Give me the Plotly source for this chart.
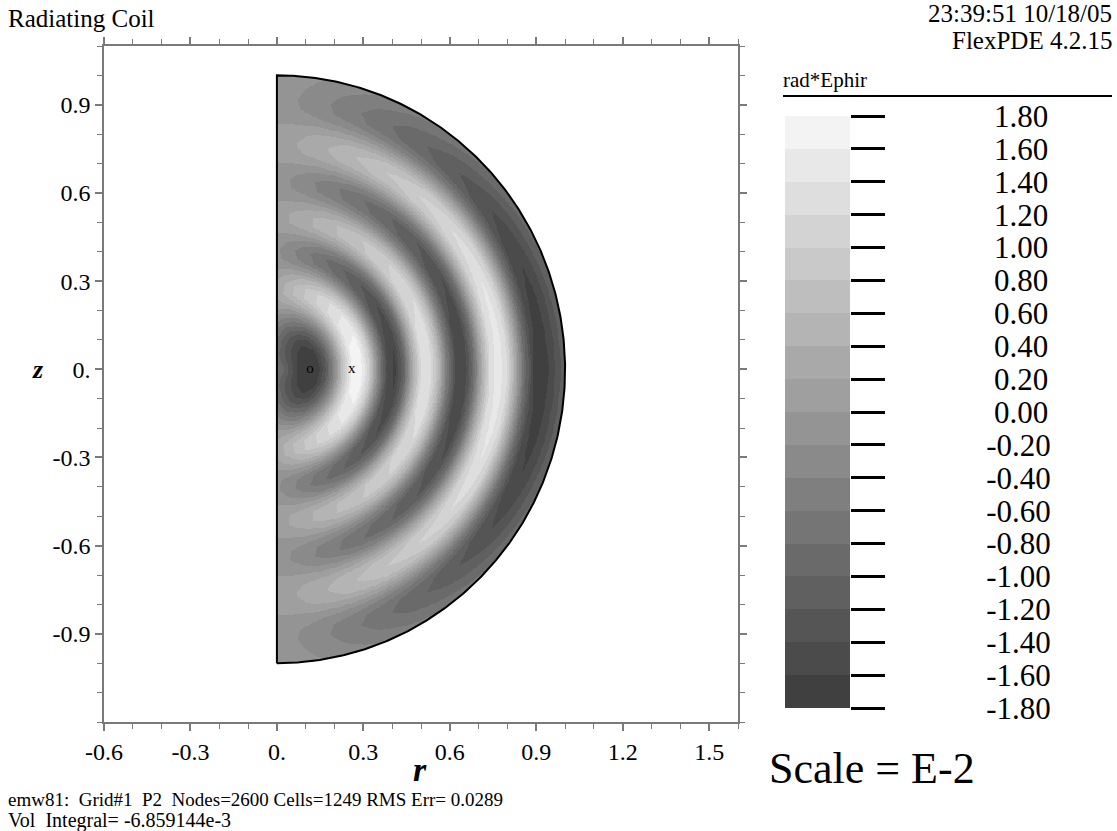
import numpy as np
import plotly.graph_objects as go

# ---------------- data ----------------
# rad*Ephir (scale E-2) along the z = 0 line, versus distance from origin
profile_dist = [0.00, 0.03, 0.06, 0.09, 0.115, 0.14, 0.17, 0.20, 0.23, 0.26, 0.29,
                0.32, 0.35, 0.38, 0.41, 0.44, 0.47, 0.50, 0.53, 0.56, 0.59, 0.62,
                0.65, 0.68, 0.71, 0.74, 0.77, 0.80, 0.83, 0.86, 0.89, 0.92, 0.95,
                0.98, 1.00]
profile_value = [-0.70, -1.10, -1.50, -1.80, -1.90, -1.75, -1.20, -0.30, 0.80, 1.65, 1.75,
                 1.00, -0.30, -1.40, -1.65, -1.00, 0.30, 1.25, 1.35, 0.60, -0.60, -1.45,
                 -1.60, -0.90, 0.30, 1.25, 1.55, 1.20, 0.20, -0.90, -1.60, -1.75, -1.55,
                 -1.25, -1.05]
# angular envelope versus polar angle from the symmetry (z) axis, degrees
envelope_angle = [0, 10, 20, 30, 45, 60, 75, 90]
envelope_factor = [0.0, 0.15, 0.32, 0.48, 0.68, 0.85, 0.96, 1.0]

contour_levels = [-1.8, -1.6, -1.4, -1.2, -1.0, -0.8, -0.6, -0.4, -0.2, 0.0,
                  0.2, 0.4, 0.6, 0.8, 1.0, 1.2, 1.4, 1.6, 1.8]
level_labels = ["-1.80", "-1.60", "-1.40", "-1.20", "-1.00", "-0.80", "-0.60", "-0.40",
                "-0.20", "0.00", "0.20", "0.40", "0.60", "0.80", "1.00", "1.20", "1.40",
                "1.60", "1.80"]

x_tick_vals = [-0.6, -0.3, 0.0, 0.3, 0.6, 0.9, 1.2, 1.5]
x_tick_text = ["-0.6", "-0.3", "0.", "0.3", "0.6", "0.9", "1.2", "1.5"]
y_tick_vals = [-0.9, -0.6, -0.3, 0.0, 0.3, 0.6, 0.9]
y_tick_text = ["-0.9", "-0.6", "-0.3", "0.", "0.3", "0.6", "0.9"]

marker_r = [0.115, 0.26]
marker_z = [0.0, 0.0]
marker_text = ["o", "x"]

domain_radius = 1.0

# ---------------- styling ----------------
FONT = "Liberation Serif"
n_bands = len(contour_levels) - 1
band_grays = [int(round(64 + k * (243 - 64) / (n_bands - 1))) for k in range(n_bands)]
band_mid = [(contour_levels[k] + contour_levels[k + 1]) / 2 for k in range(n_bands)]
colorscale = [[k / (n_bands - 1), f"rgb({g},{g},{g})"] for k, g in enumerate(band_grays)]

# ---------------- field on the half disk ----------------
r_grid = np.linspace(0.0, domain_radius, 361)
z_grid = np.linspace(-domain_radius, domain_radius, 721)
R, Z = np.meshgrid(r_grid, z_grid)
rho = np.hypot(R, Z)
theta = np.degrees(np.arctan2(R + 0.05, np.abs(Z)))
field = np.interp(rho, profile_dist, profile_value) * np.interp(theta, envelope_angle, envelope_factor)
band_idx = np.clip(np.floor((field - contour_levels[0]) / 0.2), 0, n_bands - 1).astype(int)
zq = np.array(band_mid)[band_idx]
zq = np.where(rho <= domain_radius, zq, np.nan)

fig = go.Figure()

fig.add_trace(go.Heatmap(
    x=r_grid, y=z_grid, z=zq, zmin=band_mid[0], zmax=band_mid[-1],
    colorscale=colorscale, showscale=False, zsmooth=False, hoverinfo="skip"))

# domain boundary
t = np.linspace(-np.pi / 2, np.pi / 2, 400)
bx = np.concatenate([[0.0], domain_radius * np.cos(t), [0.0], [0.0]])
bz = np.concatenate([[-domain_radius], domain_radius * np.sin(t), [domain_radius], [-domain_radius]])
fig.add_trace(go.Scatter(x=bx, y=bz, mode="lines", line=dict(color="black", width=2),
                         hoverinfo="skip", showlegend=False))

fig.add_trace(go.Scatter(x=marker_r, y=marker_z, mode="text", text=marker_text,
                         textfont=dict(family=FONT, size=15, color="black"),
                         hoverinfo="skip", showlegend=False))

# colour legend bar
fig.add_trace(go.Heatmap(
    x=[0], y=band_mid, z=[[m] for m in band_mid], zmin=band_mid[0], zmax=band_mid[-1],
    colorscale=colorscale, showscale=False, xaxis="x2", yaxis="y2", hoverinfo="skip"))

padded = [lab if lab.startswith("-") else "\u00a0" + lab for lab in level_labels]

W, H = 1117, 831
ML, MR, MT, MB = 104, 10, 46, 109
PW, PH = W - ML - MR, H - MT - MB


def px(xp, yp):
    return (xp - ML) / PW, (H - MB - yp) / PH


axis_common = dict(showgrid=False, zeroline=False, showline=True, linecolor="#7a7a7a",
                   linewidth=1.5, mirror="ticks", ticks="outside", ticklen=7, tickwidth=1.5,
                   tickcolor="#7a7a7a",
                   tickfont=dict(family=FONT, size=24, color="black"),
                   minor=dict(ticks="outside", dtick=0.1, tick0=0, ticklen=5,
                              tickcolor="#7a7a7a", tickwidth=1.2))

fig.update_layout(
    width=W, height=H, autosize=False,
    margin=dict(l=ML, r=MR, t=MT, b=MB),
    paper_bgcolor="white", plot_bgcolor="white",
    showlegend=False,
    font=dict(family=FONT),
    xaxis=dict(range=[-0.6, 1.6], domain=[0, (738 - ML) / PW], tickmode="array",
               tickvals=x_tick_vals, ticktext=x_tick_text, **axis_common),
    yaxis=dict(range=[-1.2, 1.1], domain=[0, 1], tickmode="array",
               tickvals=y_tick_vals, ticktext=y_tick_text, **axis_common),
    xaxis2=dict(domain=[(785 - ML) / PW, (850 - ML) / PW], range=[-0.5, 0.5],
                visible=False, anchor="y2"),
    yaxis2=dict(domain=[px(0, 708)[1], px(0, 116)[1]], range=[-1.8, 1.8],
                anchor="x2", side="right", tickmode="array", tickvals=contour_levels,
                ticktext=padded, ticks="outside", ticklen=34, tickwidth=3,
                tickcolor="black", showgrid=False, zeroline=False, showline=False,
                ticklabelstandoff=95,
                tickfont=dict(family=FONT, size=31, color="black")),
)

ann = []


def add_text(text, xp, yp, size, xanchor="left", weight="normal", style="normal"):
    x, y = px(xp, yp)
    ann.append(dict(text=text, x=x, y=y, xref="paper", yref="paper", xanchor=xanchor,
                    yanchor="middle", showarrow=False,
                    font=dict(family=FONT, size=size, color="black", weight=weight,
                              style=style)))


add_text("Radiating Coil", 6, 18, 25)
add_text("23:39:51 10/18/05", 1114, 14, 25, xanchor="right")
add_text("FlexPDE 4.2.15", 1114, 40, 25, xanchor="right")
add_text("rad*Ephir", 781, 80, 21)
add_text("Scale = E-2", 767, 768, 44)
add_text("emw81:  Grid#1  P2  Nodes=2600 Cells=1249 RMS Err= 0.0289", 6, 799, 19)
add_text("Vol  Integral= -6.859144e-3", 6, 820, 20)
add_text("z", 38, 369, 26, xanchor="center", weight="bold", style="italic")
add_text("r", 420, 769, 34, xanchor="center", weight="bold", style="italic")
fig.update_layout(annotations=ann)

x0, y0 = px(783, 96)
x1, _ = px(1112, 96)
fig.add_shape(type="line", xref="paper", yref="paper", x0=x0, x1=x1, y0=y0, y1=y0,
              line=dict(color="black", width=2))

fig.write_html("out.html")
